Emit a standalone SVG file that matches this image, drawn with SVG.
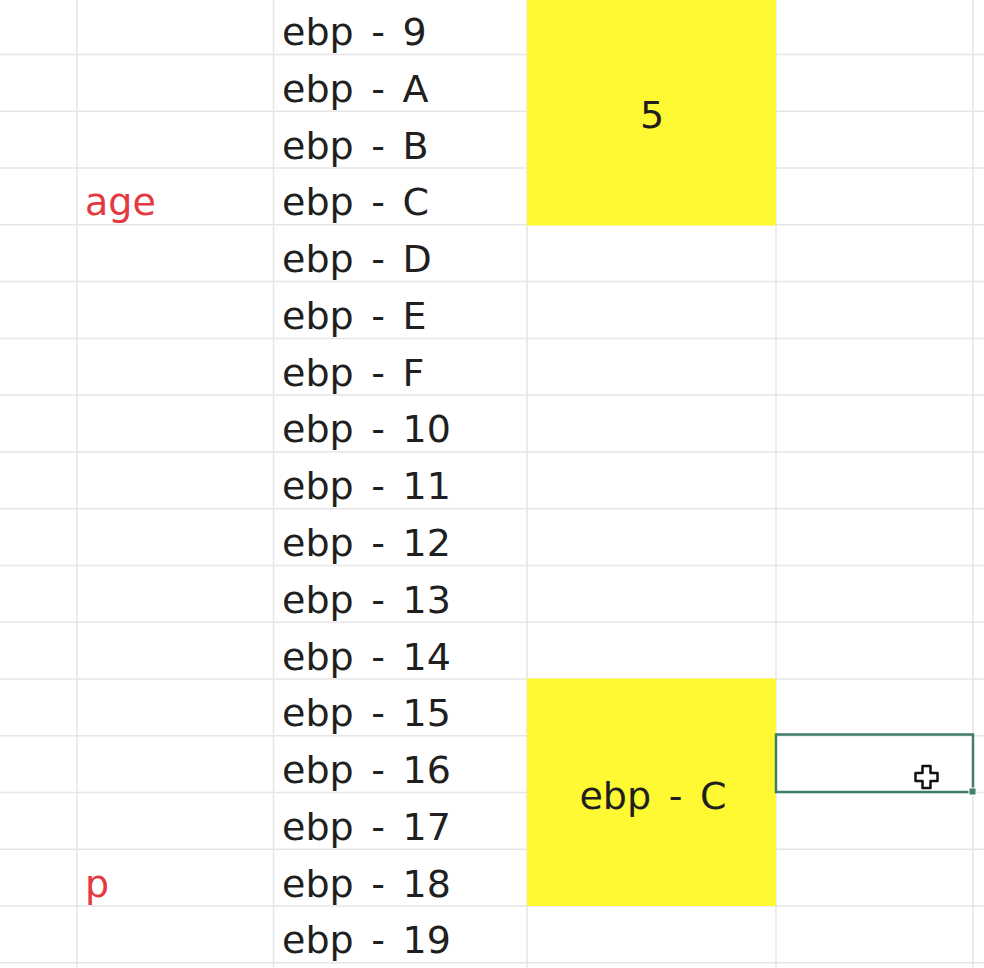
<svg xmlns="http://www.w3.org/2000/svg" width="984" height="968" viewBox="0 0 984 968">
<style>
.grid line{stroke:#e6e6e6;stroke-width:1.5}
.t{font-family:"DejaVu Sans",sans-serif;font-size:38px;fill:#1f1f1f;word-spacing:5.5px}
.r{font-family:"DejaVu Sans",sans-serif;font-size:38px;fill:#e5383f}
.y{fill:#fff933}
</style>
<rect width="984" height="968" fill="#ffffff"/>
<g class="grid" id="grid">
<line x1="0" y1="54.5" x2="984" y2="54.5"/>
<line x1="0" y1="111.3" x2="984" y2="111.3"/>
<line x1="0" y1="168" x2="984" y2="168"/>
<line x1="0" y1="224.8" x2="984" y2="224.8"/>
<line x1="0" y1="281.6" x2="984" y2="281.6"/>
<line x1="0" y1="338.4" x2="984" y2="338.4"/>
<line x1="0" y1="395.1" x2="984" y2="395.1"/>
<line x1="0" y1="451.9" x2="984" y2="451.9"/>
<line x1="0" y1="508.7" x2="984" y2="508.7"/>
<line x1="0" y1="565.4" x2="984" y2="565.4"/>
<line x1="0" y1="622.2" x2="984" y2="622.2"/>
<line x1="0" y1="679" x2="984" y2="679"/>
<line x1="0" y1="735.7" x2="984" y2="735.7"/>
<line x1="0" y1="792.5" x2="984" y2="792.5"/>
<line x1="0" y1="849.3" x2="984" y2="849.3"/>
<line x1="0" y1="906.1" x2="984" y2="906.1"/>
<line x1="0" y1="962.8" x2="984" y2="962.8"/>
<line x1="77" y1="0" x2="77" y2="968"/>
<line x1="273.5" y1="0" x2="273.5" y2="968"/>
<line x1="527" y1="0" x2="527" y2="968"/>
<line x1="776" y1="0" x2="776" y2="968"/>
<line x1="973" y1="0" x2="973" y2="968"/>
</g>
<g id="cell-5">
<rect class="y" x="527" y="0" width="249" height="225.5"/>
<text class="t" x="652" y="128" text-anchor="middle">5</text>
</g>
<g id="cell-ptr">
<rect class="y" x="527" y="678.5" width="249" height="227.5"/>
<text class="t" x="653" y="809" text-anchor="middle">ebp - C</text>
</g>
<g id="addresses">
<text class="t" x="282" y="45">ebp - 9</text>
<text class="t" x="282" y="101.8">ebp - A</text>
<text class="t" x="282" y="158.5">ebp - B</text>
<text class="t" x="282" y="215.3">ebp - C</text>
<text class="t" x="282" y="272.1">ebp - D</text>
<text class="t" x="282" y="328.9">ebp - E</text>
<text class="t" x="282" y="385.6">ebp - F</text>
<text class="t" x="282" y="442.4">ebp - 10</text>
<text class="t" x="282" y="499.2">ebp - 11</text>
<text class="t" x="282" y="555.9">ebp - 12</text>
<text class="t" x="282" y="612.7">ebp - 13</text>
<text class="t" x="282" y="669.5">ebp - 14</text>
<text class="t" x="282" y="726.2">ebp - 15</text>
<text class="t" x="282" y="783">ebp - 16</text>
<text class="t" x="282" y="839.8">ebp - 17</text>
<text class="t" x="282" y="896.6">ebp - 18</text>
<text class="t" x="282" y="953.3">ebp - 19</text>
</g>
<g id="var-age"><text class="r" x="85" y="215.3">age</text></g>
<g id="var-p"><text class="r" x="85" y="896.6">p</text></g>
<g id="selection">
<rect x="776" y="734.5" width="197" height="57.5" fill="none" stroke="#3f7f66" stroke-width="2.5"/>
<rect x="969" y="788" width="7" height="7" fill="#3f7f66" stroke="#ffffff" stroke-width="1"/>
</g>
<g id="cursor">
<path d="M922.5 766 h8 v7 h7 v8 h-7 v7 h-8 v-7 h-7 v-8 h7 z" fill="#ffffff" stroke="#111111" stroke-width="2.5" stroke-linejoin="round"/>
</g>
</svg>
